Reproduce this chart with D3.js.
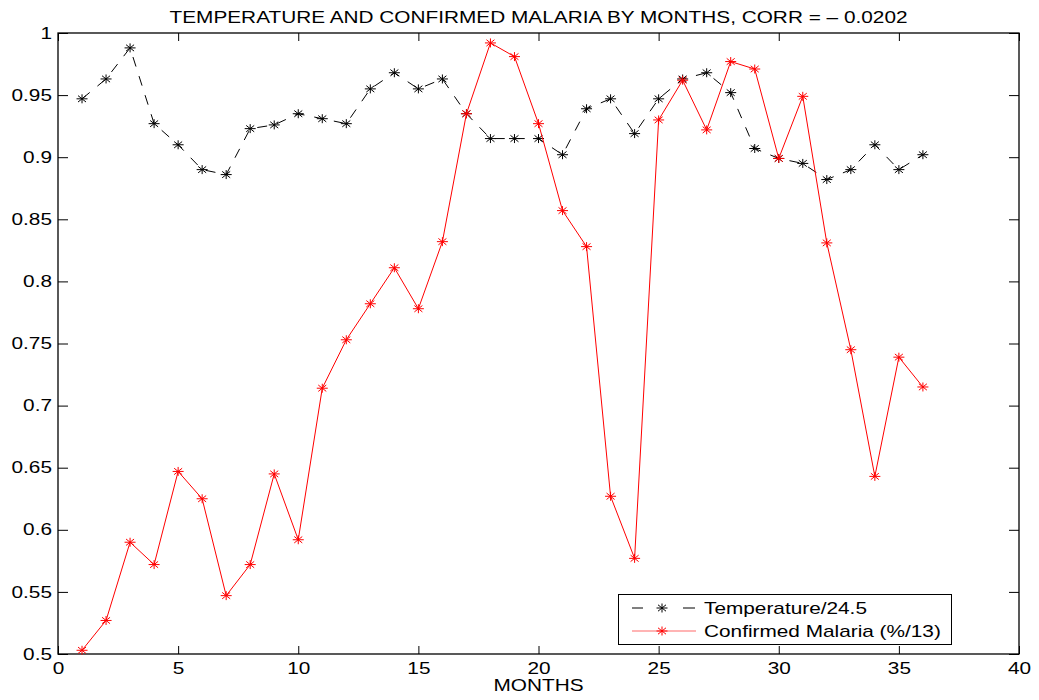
<!DOCTYPE html>
<html>
<head>
<meta charset="utf-8">
<script src="https://cdn.jsdelivr.net/npm/d3@7"></script>
<style>
  html, body { margin: 0; padding: 0; background: #fff; }
  svg { display: block; }
  text { font-family: "Liberation Sans", Arial, Helvetica, sans-serif; fill: #000; }
</style>
</head>
<body>
<svg id="chart" width="1039" height="700"></svg>
<script>
// Month index 1..36
const months = d3.range(1, 37);

// Monthly temperature scaled by 24.5
const temperature = [
  0.947, 0.963, 0.988, 0.927, 0.910, 0.890, 0.886, 0.923, 0.926, 0.935,
  0.931, 0.927, 0.955, 0.968, 0.955, 0.963, 0.935, 0.915, 0.915, 0.915,
  0.902, 0.939, 0.947, 0.919, 0.947, 0.963, 0.968, 0.952, 0.907, 0.899,
  0.895, 0.882, 0.890, 0.910, 0.890, 0.902
];

// Confirmed malaria percentage scaled by 13
const malaria = [
  0.503, 0.527, 0.590, 0.572, 0.647, 0.625, 0.547, 0.572, 0.645, 0.592,
  0.714, 0.753, 0.782, 0.811, 0.778, 0.832, 0.935, 0.992, 0.981, 0.927,
  0.857, 0.828, 0.627, 0.577, 0.930, 0.962, 0.922, 0.977, 0.971, 0.899,
  0.949, 0.831, 0.745, 0.643, 0.739, 0.715
];

const xTicks = [0, 5, 10, 15, 20, 25, 30, 35, 40];
const yTicks = [0.5, 0.55, 0.6, 0.65, 0.7, 0.75, 0.8, 0.85, 0.9, 0.95, 1];

const seriesNames = ["Temperature/24.5", "Confirmed Malaria (%/13)"];
const titleText = "TEMPERATURE AND CONFIRMED MALARIA BY MONTHS, CORR = \u2013 0.0202";
const xLabelText = "MONTHS";

// Layout
const plot = { left: 58, right: 1019, top: 33, bottom: 654 };
const stretch = 1.3;      // wide glyphs of the figure's text
const fontSize = 16;

const svg = d3.select("#chart");

const x = d3.scaleLinear().domain([0, 40]).range([plot.left, plot.right]);
const y = d3.scaleLinear().domain([0.5, 1]).range([plot.bottom, plot.top]);

const fmt = d => d3.format("")(+d.toFixed(2));

// Axes with inward ticks on all four sides
const gBottom = svg.append("g")
  .attr("transform", `translate(0,${plot.bottom})`)
  .call(d3.axisBottom(x).tickValues(xTicks).tickFormat(fmt)
        .tickSizeInner(-8).tickSizeOuter(0).tickPadding(9));
const gTop = svg.append("g")
  .attr("transform", `translate(0,${plot.top})`)
  .call(d3.axisTop(x).tickValues(xTicks).tickFormat("")
        .tickSizeInner(-8).tickSizeOuter(0));
const gLeft = svg.append("g")
  .attr("transform", `translate(${plot.left},0)`)
  .call(d3.axisLeft(y).tickValues(yTicks).tickFormat(fmt)
        .tickSizeInner(-10).tickSizeOuter(0).tickPadding(6));
const gRight = svg.append("g")
  .attr("transform", `translate(${plot.right},0)`)
  .call(d3.axisRight(y).tickValues(yTicks).tickFormat("")
        .tickSizeInner(-10).tickSizeOuter(0));

[gBottom, gTop, gLeft, gRight].forEach(g => {
  g.select(".domain").remove();
  g.selectAll(".tick line").attr("stroke", "#000").attr("stroke-width", 1);
  g.selectAll(".tick text")
    .attr("font-size", fontSize)
    .style("font-family", '"Liberation Sans", Arial, Helvetica, sans-serif')
    .attr("fill", "#000");
});
// wide tick labels
gBottom.selectAll(".tick text").attr("transform", `scale(${stretch},1)`);
gLeft.selectAll(".tick text")
  .attr("x", -6 / stretch)
  .attr("transform", `scale(${stretch},1)`);

// Frame
svg.append("rect")
  .attr("x", plot.left).attr("y", plot.top)
  .attr("width", plot.right - plot.left).attr("height", plot.bottom - plot.top)
  .attr("fill", "none").attr("stroke", "#000").attr("stroke-width", 1.3);

// Asterisk marker ('+' overlaid with 'x')
const star = "M-5.5,0H5.5M0,-4.5V4.5M-4,-3.2L4,3.2M-4,3.2L4,-3.2";

const line = d3.line().x((d, i) => x(months[i])).y(d => y(d));

// Temperature series: dashed black
svg.append("path")
  .datum(temperature)
  .attr("d", line)
  .attr("fill", "none").attr("stroke", "#000").attr("stroke-width", 1)
  .attr("stroke-dasharray", "10,10");
svg.append("g").selectAll("path")
  .data(temperature).join("path")
  .attr("transform", (d, i) => `translate(${x(months[i])},${y(d)})`)
  .attr("d", star).attr("stroke", "#000").attr("stroke-width", 1).attr("fill", "none");

// Malaria series: solid red
svg.append("path")
  .datum(malaria)
  .attr("d", line)
  .attr("fill", "none").attr("stroke", "#ff0000").attr("stroke-width", 1);
svg.append("g").selectAll("path")
  .data(malaria).join("path")
  .attr("transform", (d, i) => `translate(${x(months[i])},${y(d)})`)
  .attr("d", star).attr("stroke", "#ff0000").attr("stroke-width", 1).attr("fill", "none");

// Title and axis label
svg.append("text")
  .attr("transform", `translate(${(plot.left + plot.right) / 2},23) scale(${stretch},1)`)
  .attr("text-anchor", "middle").attr("font-size", fontSize)
  .text(titleText);

svg.append("text")
  .attr("transform", `translate(${(plot.left + plot.right) / 2},691) scale(${stretch},1)`)
  .attr("text-anchor", "middle").attr("font-size", fontSize)
  .text(xLabelText);

// Legend
const legend = svg.append("g");
legend.append("rect")
  .attr("x", 618.5).attr("y", 594.5).attr("width", 333).attr("height", 50)
  .attr("fill", "#fff").attr("stroke", "#000").attr("stroke-width", 1);

const rows = [
  { name: seriesNames[0], color: "#000", lineColor: "#000", dashed: true, cy: 608 },
  { name: seriesNames[1], color: "#ff0000", lineColor: "#ff6a6a", dashed: false, cy: 631 }
];
rows.forEach(r => {
  if (r.dashed) {
    legend.append("line").attr("x1", 632).attr("x2", 643).attr("y1", r.cy).attr("y2", r.cy)
      .attr("stroke", r.lineColor).attr("stroke-width", 1);
    legend.append("line").attr("x1", 683).attr("x2", 695).attr("y1", r.cy).attr("y2", r.cy)
      .attr("stroke", r.lineColor).attr("stroke-width", 1);
  } else {
    legend.append("line").attr("x1", 632).attr("x2", 696).attr("y1", r.cy).attr("y2", r.cy)
      .attr("stroke", r.lineColor).attr("stroke-width", 1.2);
  }
  legend.append("path").attr("transform", `translate(662,${r.cy})`)
    .attr("d", star).attr("stroke", r.color).attr("stroke-width", 1).attr("fill", "none");
  legend.append("text")
    .attr("transform", `translate(704,${r.cy + 6}) scale(${stretch},1)`)
    .attr("font-size", fontSize)
    .text(r.name);
});
</script>
</body>
</html>
